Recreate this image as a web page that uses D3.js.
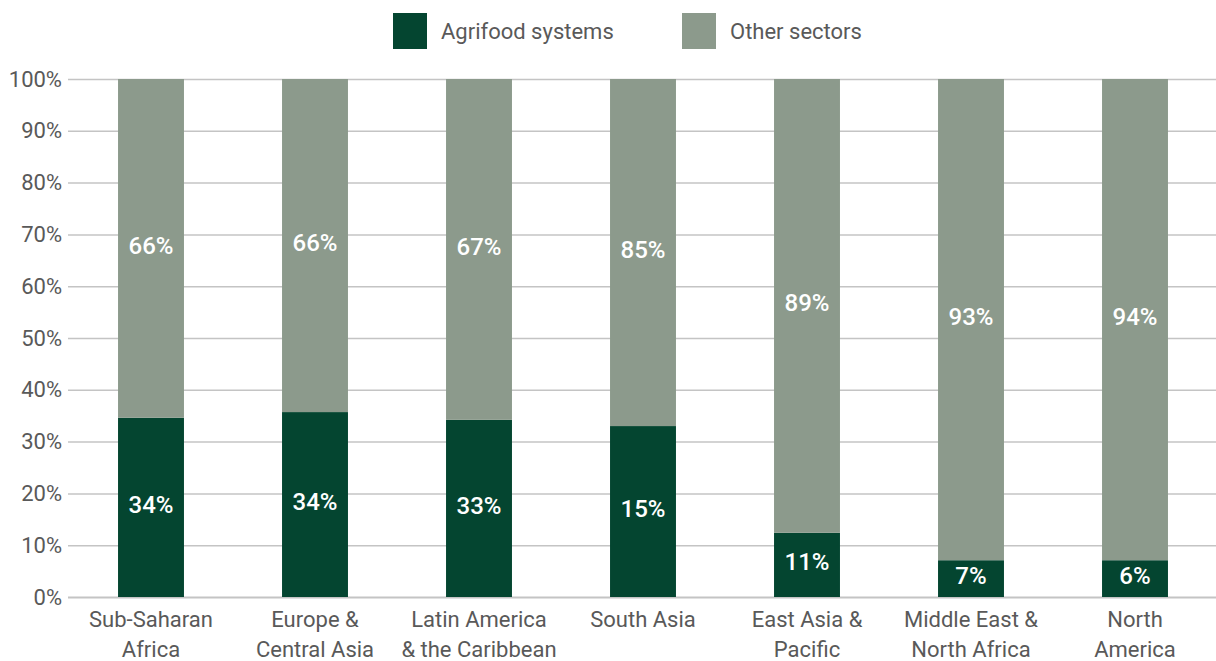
<!DOCTYPE html>
<html>
<head>
<meta charset="utf-8">
<script src="https://cdn.jsdelivr.net/npm/d3@7"></script>
<style>
  body { margin: 0; background: #fff; }
  text { font-family: Roboto, "DejaVu Sans", sans-serif; }
</style>
</head>
<body>
<div id="chart"></div>
<script>
// Regions, two lines each for the axis labels
var regions = ["Sub-Saharan Africa", "Europe & Central Asia", "Latin America & the Caribbean",
               "South Asia", "East Asia & Pacific", "Middle East & North Africa", "North America"];
var regionLines = [["Sub-Saharan", "Africa"], ["Europe &", "Central Asia"], ["Latin America", "& the Caribbean"],
                   ["South Asia"], ["East Asia &", "Pacific"], ["Middle East &", "North Africa"], ["North", "America"]];

// Bar heights as drawn (percent of total)
var agrifood = [34.6, 35.7, 34.2, 33.0, 12.4, 7.1, 7.1];
// Printed labels (as they appear in the chart)
var agrifoodLabels = ["34%", "34%", "33%", "15%", "11%", "7%", "6%"];
var otherLabels = ["66%", "66%", "67%", "85%", "89%", "93%", "94%"];

var seriesNames = ["Agrifood systems", "Other sectors"];
var colors = ["#044530", "#8c9a8c"];
var yTicks = [0, 10, 20, 30, 40, 50, 60, 70, 80, 90, 100];

var width = 1216, height = 661;
var svg = d3.select("#chart").append("svg")
    .attr("width", width)
    .attr("height", height);

var x = d3.scaleBand()
    .domain(regions)
    .range([69, 1217])
    .paddingInner(0.598)
    .paddingOuter(0.299);

var y = d3.scaleLinear()
    .domain([0, 100])
    .range([597, 79]);

// ---- gridlines + y labels ----
var yAxis = d3.axisLeft(y)
    .tickValues(yTicks)
    .tickSize(-(1216 - 68))
    .tickPadding(6)
    .tickFormat(function(d) { return d + "%"; });

var gy = svg.append("g")
    .attr("transform", "translate(68,0)")
    .call(yAxis);
gy.select(".domain").remove();
gy.selectAll(".tick line")
    .attr("stroke", "#c4c4c4")
    .attr("stroke-width", function(d) { return d === 0 ? 2 : 1.5; });
gy.selectAll(".tick text")
    .attr("x", -6)
    .style("font-size", "22px")
    .attr("fill", "#595959");

// ---- stacked bars ----
var stackData = regions.map(function(r, i) {
  return { region: r, agri: agrifood[i], other: 100 - agrifood[i] };
});
var stack = d3.stack().keys(["agri", "other"]);
var layers = stack(stackData);

var labelSets = [agrifoodLabels, otherLabels];

layers.forEach(function(layer, k) {
  svg.append("g").selectAll("rect")
    .data(layer)
    .enter().append("rect")
    .attr("x", function(d) { return x(d.data.region); })
    .attr("width", x.bandwidth())
    .attr("y", function(d) { return y(d[1]); })
    .attr("height", function(d) { return y(d[0]) - y(d[1]); })
    .attr("fill", colors[k]);

  svg.append("g").selectAll("text")
    .data(layer)
    .enter().append("text")
    .attr("x", function(d) { return x(d.data.region) + x.bandwidth() / 2; })
    .attr("y", function(d) { return (y(d[0]) + y(d[1])) / 2 - 3; })
    .attr("dy", "0.35em")
    .attr("text-anchor", "middle")
    .attr("fill", "#ffffff")
    .style("font-size", "24px")
    .style("font-weight", "500")
    .text(function(d, i) { return labelSets[k][i]; });
});

// ---- category labels ----
var cat = svg.append("g").selectAll("text")
    .data(regions)
    .enter().append("text")
    .attr("text-anchor", "middle")
    .attr("fill", "#595959")
    .style("font-size", "22px")
    .attr("x", function(d) { return x(d) + x.bandwidth() / 2; })
    .attr("y", 627);

cat.each(function(d, i) {
  var t = d3.select(this);
  regionLines[i].forEach(function(line, j) {
    t.append("tspan")
      .attr("x", x(d) + x.bandwidth() / 2)
      .attr("dy", j === 0 ? 0 : 30)
      .text(line);
  });
});

// ---- legend ----
var legendX = [393, 682];
var legend = svg.append("g").selectAll("g")
    .data(seriesNames)
    .enter().append("g")
    .attr("transform", function(d, i) { return "translate(" + legendX[i] + ",13)"; });

legend.append("rect")
    .attr("width", 34)
    .attr("height", 36)
    .attr("fill", function(d, i) { return colors[i]; });

legend.append("text")
    .attr("x", 48)
    .attr("y", 18)
    .attr("dy", "0.35em")
    .attr("fill", "#595959")
    .style("font-size", "22px")
    .text(function(d) { return d; });
</script>
</body>
</html>
